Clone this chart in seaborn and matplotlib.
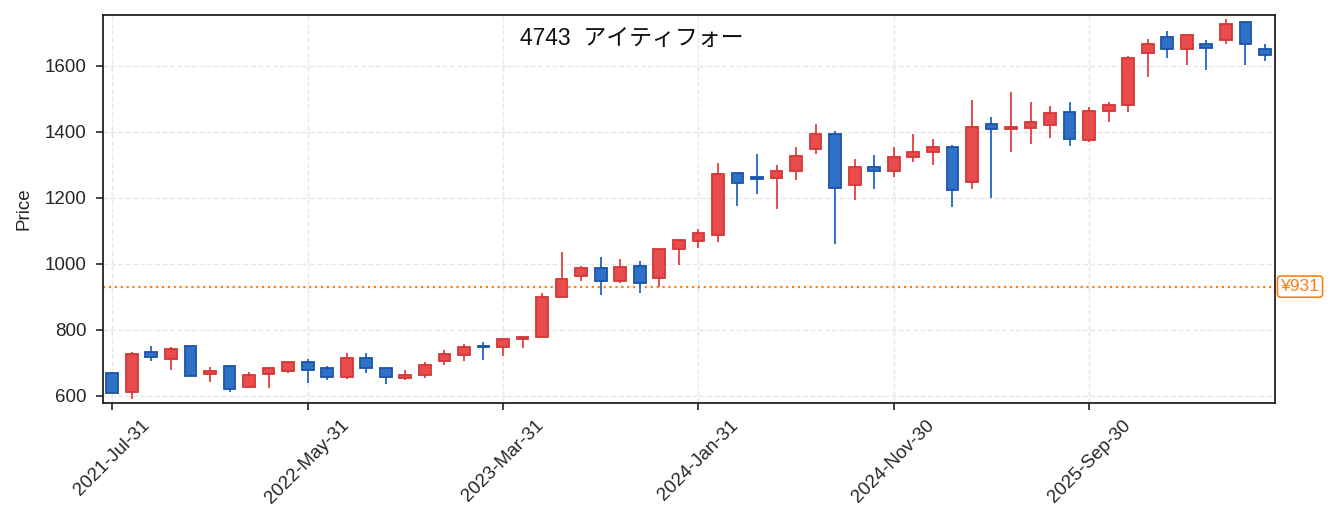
import pandas as pd
import numpy as np
import matplotlib
matplotlib.use("Agg")
import matplotlib.pyplot as plt
import matplotlib.transforms as mtransforms
import seaborn as sns

# monthly candles, Jul 2021 .. Jun 2026
dates = pd.date_range("2021-07-31", periods=60, freq="ME")

opens = [670, 611, 734, 713, 752, 666, 689, 628, 666, 675,
         701, 683, 656, 715, 685, 653, 662, 704, 723, 752,
         748, 773, 777, 899, 962, 986, 947, 993, 957, 1045,
         1068, 1087, 1275, 1262, 1259, 1282, 1348, 1393, 1238, 1293,
         1282, 1323, 1338, 1355, 1247, 1425, 1409, 1411, 1420, 1461,
         1375, 1463, 1482, 1638, 1689, 1651, 1668, 1678, 1732, 1650]
highs = [670, 732, 751, 748, 752, 687, 689, 672, 683, 701,
         710, 689, 730, 730, 685, 678, 701, 739, 757, 763,
         771, 777, 911, 1036, 993, 1021, 1015, 1009, 1044, 1071,
         1106, 1306, 1275, 1333, 1300, 1354, 1424, 1403, 1318, 1330,
         1354, 1394, 1379, 1360, 1497, 1445, 1521, 1491, 1478, 1490,
         1475, 1490, 1630, 1682, 1706, 1695, 1679, 1742, 1737, 1667]
lows = [608, 591, 705, 678, 660, 642, 612, 628, 624, 668,
        639, 648, 651, 670, 636, 648, 655, 694, 706, 709,
        721, 746, 777, 899, 949, 905, 943, 912, 931, 996,
        1048, 1066, 1175, 1212, 1166, 1254, 1334, 1060, 1194, 1227,
        1264, 1309, 1300, 1173, 1228, 1200, 1340, 1364, 1382, 1358,
        1370, 1431, 1461, 1567, 1625, 1603, 1588, 1668, 1603, 1616]
closes = [608, 727, 717, 741, 660, 674, 622, 662, 683, 701,
          677, 656, 715, 684, 657, 664, 694, 726, 749, 747,
          771, 777, 900, 955, 986, 947, 990, 941, 1044, 1071,
          1093, 1272, 1244, 1258, 1281, 1326, 1393, 1229, 1293, 1281,
          1325, 1340, 1355, 1224, 1416, 1409, 1414, 1431, 1458, 1379,
          1464, 1483, 1625, 1668, 1651, 1695, 1654, 1726, 1667, 1633]

ref_price = 931
title = "4743  アイティフォー"

df = pd.DataFrame({"date": dates, "open": opens, "high": highs,
                   "low": lows, "close": closes})
df["x"] = np.arange(len(df))
df["up"] = df["close"] >= df["open"]

sns.set_theme(style="whitegrid")
plt.rcParams["font.family"] = ["Liberation Sans", "Noto Sans CJK JP"]

fig = plt.figure(figsize=(13.39, 5.31), dpi=100)
ax = fig.add_axes([0.077, 0.241, 0.875, 0.731])

# red = up, blue = down (Japanese convention)
up_fill, up_edge = "#e84c4c", "#d43636"
dn_fill, dn_edge = "#2e72c8", "#1d52ab"

for is_up, fill, edge in [(True, up_fill, up_edge), (False, dn_fill, dn_edge)]:
    sub = df[df["up"] == is_up]
    ax.vlines(sub["x"], sub["low"], sub["high"], color=fill, linewidth=1.4, zorder=2)
    body = (sub["close"] - sub["open"]).abs()
    bottom = sub[["open", "close"]].min(axis=1)
    ax.bar(sub["x"], body.clip(lower=1.5), bottom=bottom, width=0.6,
           color=fill, edgecolor=edge, linewidth=1.3, zorder=3)

ax.axhline(ref_price, color="#ff7f0e", linestyle=":", linewidth=1.6, zorder=1)
trans = mtransforms.blended_transform_factory(ax.transAxes, ax.transData)
ax.text(1.005, ref_price, f"¥{ref_price}", transform=trans, ha="left", va="center",
        color="#ff7f0e", fontsize=12.5,
        bbox=dict(boxstyle="round,pad=0.18", fc="white", ec="#ff7f0e", lw=1.2))

ax.text(0.451, 0.936, title, transform=ax.transAxes, ha="center", va="center",
        fontsize=16.5, color="#111111")

ticks = df["x"][::10]
ax.set_xticks(ticks)
ax.set_xticklabels(df["date"][::10].dt.strftime("%Y-%b-%d"), rotation=45, fontsize=13.5)
ax.set_xlim(-0.47, 59.5)
ax.set_ylim(578, 1755)
ax.set_yticks([600, 800, 1000, 1200, 1400, 1600])
ax.tick_params(axis="y", labelsize=13.5, pad=7)
ax.tick_params(axis="x", pad=5)
ax.tick_params(axis="both", which="both", length=5, width=1.2, color="#222222",
               bottom=True, left=True)
ax.set_ylabel("Price", fontsize=13.5, labelpad=9)
ax.set_xlabel("")

ax.grid(True, linestyle="--", color="#e6e6e6", linewidth=1.0)
ax.set_facecolor("white")
for s in ax.spines.values():
    s.set_visible(True)
    s.set_color("#222222")
    s.set_linewidth(1.3)

plt.savefig("out.png", dpi=100)
